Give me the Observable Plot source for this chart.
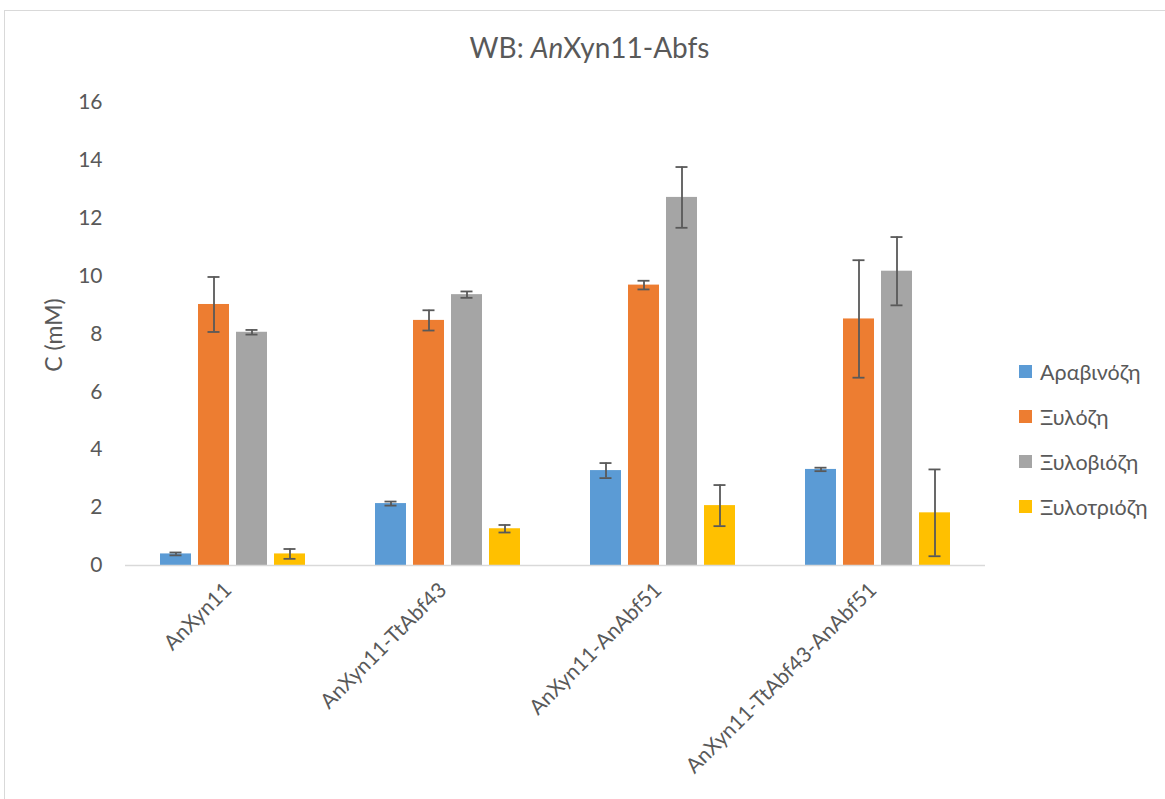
<!DOCTYPE html>
<html>
<head>
<meta charset="utf-8">
<script src="https://cdn.jsdelivr.net/npm/d3@7"></script>
<script src="https://cdn.jsdelivr.net/npm/@observablehq/plot@0.6"></script>
<style>
  html, body { margin: 0; padding: 0; background: #fff; overflow: hidden; }
  #wrap { position: relative; width: 1165px; height: 799px; overflow: hidden; font-family: Lato, "Open Sans", sans-serif; color: #595959; }
  #frame { position: absolute; left: 4px; top: 10px; width: 1300px; height: 900px; border-left: 1.5px solid #d9d9d9; border-top: 1.5px solid #d9d9d9; }
  #title { position: absolute; left: 7px; width: 1165px; top: 30px; text-align: center; font-size: 28px; }
  #ylabel { position: absolute; left: 53px; top: 335px; transform: translate(-50%, -50%) rotate(-90deg); font-size: 23px; white-space: nowrap; }
  #legend { position: absolute; left: 1019px; top: 349px; font-size: 21.5px; }
  .li { display: flex; align-items: center; height: 45px; }
  .sw { width: 13px; height: 13px; margin-right: 8px; }
  #chart { position: absolute; left: 0; top: 0; }
</style>
</head>
<body>
<div id="wrap">
  <div id="frame"></div>
  <div id="chart"></div>
  <div id="title">WB: <i>An</i>Xyn11-Abfs</div>
  <div id="ylabel">C (mM)</div>
  <div id="legend"></div>
</div>
<script>
const groups = ["AnXyn11", "AnXyn11-TtAbf43", "AnXyn11-AnAbf51", "AnXyn11-TtAbf43-AnAbf51"];
const series = ["Αραβινόζη", "Ξυλόζη", "Ξυλοβιόζη", "Ξυλοτριόζη"];
const colors = ["#5B9BD5", "#ED7D31", "#A5A5A5", "#FFC000"];
const arabinose = [0.40, 2.14, 3.28, 3.32];
const xylose = [9.02, 8.47, 9.69, 8.52];
const xylobiose = [8.06, 9.36, 12.72, 10.17];
const xylotriose = [0.40, 1.27, 2.07, 1.82];
const arabinoseErr = [0.05, 0.07, 0.26, 0.06];
const xyloseErr = [0.95, 0.35, 0.15, 2.03];
const xylobioseErr = [0.08, 0.11, 1.05, 1.18];
const xylotrioseErr = [0.17, 0.13, 0.71, 1.50];
const yTicks = [0, 2, 4, 6, 8, 10, 12, 14, 16];

const values = [arabinose, xylose, xylobiose, xylotriose];
const errors = [arabinoseErr, xyloseErr, xylobioseErr, xylotrioseErr];
const data = [];
groups.forEach((g, gi) => {
  series.forEach((s, si) => {
    data.push({group: g, series: s, value: values[si][gi], err: errors[si][gi]});
  });
});

const plot = Plot.plot({
  width: 1165,
  height: 799,
  marginLeft: 125,
  marginRight: 180,
  marginTop: 102,
  marginBottom: 234,
  style: {fontFamily: "Lato, 'Open Sans', sans-serif", fontSize: "21px", color: "#595959", background: "transparent", overflow: "visible"},
  fx: {domain: groups, padding: 0, label: null},
  x: {domain: series, paddingInner: 0.197, paddingOuter: 0.884, axis: null},
  y: {domain: [0, 16], ticks: yTicks, tickSize: 0, tickPadding: 23, label: null},
  color: {domain: series, range: colors},
  marks: [
    Plot.axisFx({anchor: "bottom", tickRotate: -45, tickSize: 0, tickPadding: 5, dx: -5, dy: 16, fontSize: 21, label: null}),
    Plot.barY(data, {fx: "group", x: "series", y: "value", fill: "series"}),
    Plot.ruleY([0], {stroke: "#d9d9d9", strokeWidth: 1.5}),
    Plot.ruleX(data, {fx: "group", x: "series", y1: d => d.value - d.err, y2: d => d.value + d.err, stroke: "#595959", strokeWidth: 1.8}),
    Plot.tickY(data, {fx: "group", x: "series", y: d => d.value + d.err, stroke: "#595959", strokeWidth: 1.8, insetLeft: 9.5, insetRight: 9.5}),
    Plot.tickY(data, {fx: "group", x: "series", y: d => d.value - d.err, stroke: "#595959", strokeWidth: 1.8, insetLeft: 9.5, insetRight: 9.5})
  ]
});
document.getElementById("chart").appendChild(plot);

const legend = document.getElementById("legend");
series.forEach((s, i) => {
  const row = document.createElement("div");
  row.className = "li";
  const sw = document.createElement("div");
  sw.className = "sw";
  sw.style.background = colors[i];
  const t = document.createElement("span");
  t.textContent = s;
  row.appendChild(sw);
  row.appendChild(t);
  legend.appendChild(row);
});
</script>
</body>
</html>
